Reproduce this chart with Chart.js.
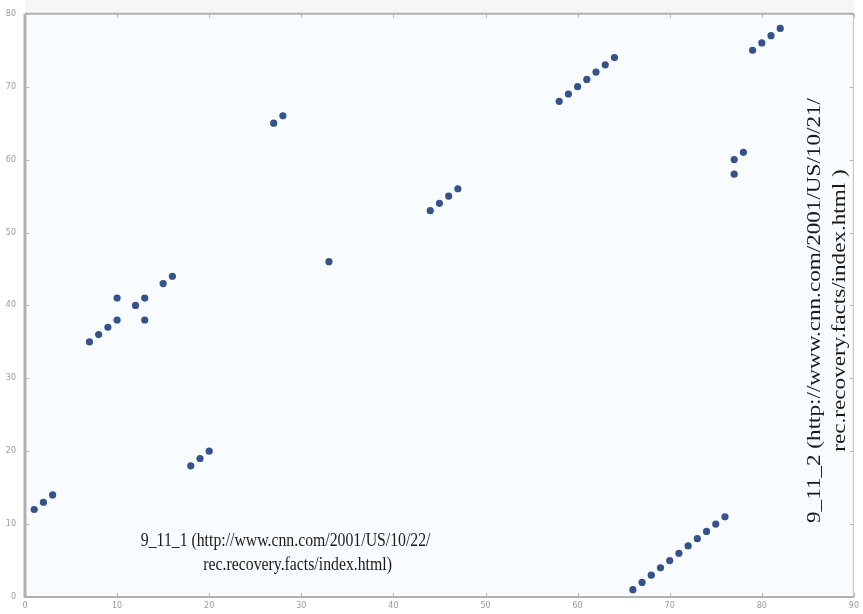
<!DOCTYPE html>
<html>
<head>
<meta charset="utf-8">
<script src="https://cdn.jsdelivr.net/npm/chart.js@4"></script>
<style>
  html, body { margin: 0; padding: 0; background: #ffffff; }
  #wrap { width: 863px; height: 614px; position: relative; }
</style>
</head>
<body>
<div id="wrap"><canvas id="scatterChart"></canvas></div>
<script>
// values
var xValues = [1, 2, 3,
  7, 8, 9, 10, 10, 12, 13, 13, 15, 16,
  18, 19, 20,
  27, 28,
  33,
  44, 45, 46, 47,
  58, 59, 60, 61, 62, 63, 64,
  66, 67, 68, 69, 70, 71, 72, 73, 74, 75, 76,
  77, 77, 78,
  79, 80, 81, 82];
var yValues = [12, 13, 14,
  35, 36, 37, 38, 41, 40, 41, 38, 43, 44,
  18, 19, 20,
  65, 66,
  46,
  53, 54, 55, 56,
  68, 69, 70, 71, 72, 73, 74,
  1, 2, 3, 4, 5, 6, 7, 8, 9, 10, 11,
  58, 60, 61,
  75, 76, 77, 78];
var xTicks = [0, 10, 20, 30, 40, 50, 60, 70, 80, 90];
var yTicks = [0, 10, 20, 30, 40, 50, 60, 70, 80];
var label1 = ["9_11_1 (http://www.cnn.com/2001/US/10/22/", "rec.recovery.facts/index.html)"];
var label2 = ["9_11_2 (http://www.cnn.com/2001/US/10/21/", "rec.recovery.facts/index.html )"];

var points = xValues.map(function (x, i) { return { x: x, y: yValues[i] }; });

// background, frame, inward tick marks and the two text notes
var framePlugin = {
    id: 'framePlugin',
    beforeDraw: function (chart) {
        var ctx = chart.ctx, a = chart.chartArea;
        ctx.save();
        ctx.fillStyle = '#f6f6f6';
        ctx.fillRect(a.left, 0, a.right - a.left, a.top);
        ctx.fillStyle = '#f8fcfe';
        ctx.fillRect(a.left, a.top, a.right - a.left, a.bottom - a.top);
        ctx.restore();
    },
    afterDatasetsDraw: function (chart) {
        var ctx = chart.ctx, a = chart.chartArea;
        var xs = chart.scales.x, ys = chart.scales.y;
        ctx.save();
        ctx.strokeStyle = '#b4b4b4';
        ctx.lineWidth = 1;
        xTicks.forEach(function (v) {
            var px = Math.round(xs.getPixelForValue(v)) + 0.5;
            ctx.beginPath();
            ctx.moveTo(px, a.bottom); ctx.lineTo(px, a.bottom - 4);
            ctx.moveTo(px, a.top); ctx.lineTo(px, a.top + 4);
            ctx.stroke();
        });
        yTicks.forEach(function (v) {
            var py = Math.round(ys.getPixelForValue(v)) + 0.5;
            ctx.beginPath();
            ctx.moveTo(a.left, py); ctx.lineTo(a.left + 4, py);
            ctx.moveTo(a.right, py); ctx.lineTo(a.right - 4, py);
            ctx.stroke();
        });
        // frame
        ctx.strokeStyle = '#c8c8c8';
        ctx.lineWidth = 1;
        ctx.strokeRect(a.right - 0.5, a.top, 0, a.bottom - a.top);
        ctx.strokeStyle = '#b0b0b0';
        ctx.lineWidth = 2;
        ctx.beginPath();
        ctx.moveTo(a.left, a.top); ctx.lineTo(a.right, a.top);
        ctx.moveTo(a.left, a.bottom); ctx.lineTo(a.right, a.bottom);
        ctx.stroke();
        ctx.lineWidth = 3;
        ctx.beginPath();
        ctx.moveTo(a.left, a.top); ctx.lineTo(a.left, a.bottom + 1);
        ctx.stroke();

        // notes (the source picture is stretched, so the text is too)
        ctx.fillStyle = '#1a1a1a';
        ctx.font = '18px "Liberation Serif", "Times New Roman", serif';
        ctx.textAlign = 'center';
        ctx.textBaseline = 'middle';
        [[label1[0], 28.3, 7.7], [label1[1], 29.6, 4.3]].forEach(function (l) {
            ctx.save();
            ctx.translate(xs.getPixelForValue(l[1]), ys.getPixelForValue(l[2]));
            ctx.scale(0.876, 1);
            ctx.fillText(l[0], 0, 0);
            ctx.restore();
        });

        var cy = ys.getPixelForValue(39.3);
        [[label2[0], 85.75], [label2[1], 88.55]].forEach(function (l) {
            ctx.save();
            ctx.translate(xs.getPixelForValue(l[1]), cy);
            ctx.rotate(-Math.PI / 2);
            ctx.scale(1.285, 1);
            ctx.fillText(l[0], 0, 0);
            ctx.restore();
        });
        ctx.restore();
    }
};

var ctx = document.getElementById('scatterChart');
var scatterChart = new Chart(ctx, {
    type: 'scatter',
    data: {
        datasets: [{
            data: points,
            backgroundColor: '#36528a',
            borderColor: '#36528a',
            borderWidth: 0,
            pointRadius: 3.6,
            pointHoverRadius: 3.6
        }]
    },
    options: {
        responsive: true,
        maintainAspectRatio: false,
        animation: false,
        layout: { padding: { top: 13, right: 3, left: 0, bottom: 0 } },
        plugins: {
            legend: { display: false },
            tooltip: { enabled: false }
        },
        scales: {
            x: {
                type: 'linear',
                min: 0,
                max: 90,
                afterFit: function (scale) { scale.height = 17; },
                afterBuildTicks: function (scale) {
                    scale.ticks = xTicks.map(function (v) { return { value: v }; });
                },
                grid: { display: false, drawTicks: false },
                border: { display: false },
                ticks: { color: '#9a9a9a', padding: 4, font: { size: 8, family: 'DejaVu Sans' }, maxRotation: 0 }
            },
            y: {
                type: 'linear',
                min: 0,
                max: 80,
                afterFit: function (scale) { scale.width = 25; },
                afterBuildTicks: function (scale) {
                    scale.ticks = yTicks.map(function (v) { return { value: v }; });
                },
                grid: { display: false, drawTicks: false },
                border: { display: false },
                ticks: { color: '#9a9a9a', padding: 9, font: { size: 8, family: 'DejaVu Sans' } }
            }
        }
    },
    plugins: [framePlugin]
});
</script>
</body>
</html>
